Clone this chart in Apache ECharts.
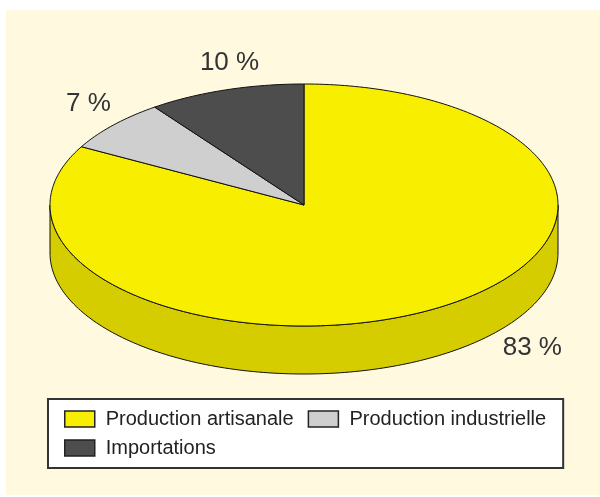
<!DOCTYPE html>
<html>
<head>
<meta charset="utf-8">
<script src="https://cdn.jsdelivr.net/npm/echarts@6/dist/echarts.min.js"></script>
<style>
  html, body { margin: 0; padding: 0; background: #fff; }
  #chart { position: absolute; left: 6px; top: 10px; width: 594px; height: 485px; }
</style>
</head>
<body>
<div id="chart"></div>
<script>
// data
const categories = ['Production artisanale', 'Production industrielle', 'Importations'];
const values = [83, 7, 10];
const valueLabels = ['83 %', '7 %', '10 %'];

// look
const colors = ['#f8ef00', '#cfcfcf', '#4d4d4d'];
const wallColors = ['#d6cd00', '#a8a8a8', '#363636'];
const labelOffsets = [[99, 39], [-25, -21], [4, -27]];

// ellipse geometry (chart coords, container is shifted by 6,10)
const cx = 298, cy = 195, rx = 254, ry = 121, depth = 48;
const total = values.reduce((a, b) => a + b, 0);

function pt(a, dy) {
  return [cx + rx * Math.cos(a), cy + ry * Math.sin(a) + dy];
}

function arc(a0, a1, dy) {
  const steps = Math.max(2, Math.ceil(Math.abs(a1 - a0) / 0.02));
  const pts = [];
  for (let i = 0; i <= steps; i++) {
    pts.push(pt(a0 + (a1 - a0) * i / steps, dy));
  }
  return pts;
}

function renderSlice(params, api) {
  const idx = params.seriesIndex;
  let before = 0;
  for (let i = 0; i < idx; i++) before += values[i];
  const v = api.value(0);
  const a0 = -Math.PI / 2 + 2 * Math.PI * before / total;
  const a1 = a0 + 2 * Math.PI * v / total;
  const children = [];

  // front wall
  const lo = Math.max(a0, 0), hi = Math.min(a1, Math.PI);
  if (lo < hi) {
    const pts = arc(lo, hi, 0).concat(arc(hi, lo, depth));
    children.push({
      type: 'polygon',
      shape: { points: pts },
      style: { fill: wallColors[idx], stroke: '#111', lineWidth: 1 }
    });
  }

  // top face
  children.push({
    type: 'polygon',
    shape: { points: [[cx, cy]].concat(arc(a0, a1, 0)) },
    style: { fill: colors[idx], stroke: '#111', lineWidth: 1 }
  });

  // value label
  const mid = (a0 + a1) / 2;
  const p = pt(mid, 0);
  children.push({
    type: 'text',
    x: p[0] + labelOffsets[idx][0],
    y: p[1] + labelOffsets[idx][1],
    style: {
      text: valueLabels[idx],
      font: '26px "Liberation Sans", Arial, sans-serif',
      fill: '#333',
      align: 'center',
      verticalAlign: 'middle'
    }
  });

  return { type: 'group', children: children };
}

const chart = echarts.init(document.getElementById('chart'));
chart.setOption({
  backgroundColor: '#fef9df',
  animation: false,
  legend: {
    data: categories,
    left: 42,
    top: 389,
    width: 505,
    orient: 'horizontal',
    icon: 'rect',
    itemWidth: 30,
    itemHeight: 16,
    itemGap: 9,
    padding: [10, 12, 10, 16],
    backgroundColor: '#fff',
    borderColor: '#333',
    borderWidth: 2,
    borderRadius: 0,
    selectedMode: false,
    itemStyle: { borderColor: '#222', borderWidth: 1.5 },
    textStyle: {
      fontFamily: '"Liberation Sans", Arial, sans-serif',
      fontSize: 20,
      lineHeight: 15,
      color: '#222',
      padding: [0, 5, 0, 6]
    }
  },
  series: categories.map((name, i) => ({
    type: 'custom',
    name: name,
    coordinateSystem: 'none',
    itemStyle: { color: colors[i] },
    renderItem: renderSlice,
    data: [[values[i]]]
  }))
});
</script>
</body>
</html>
